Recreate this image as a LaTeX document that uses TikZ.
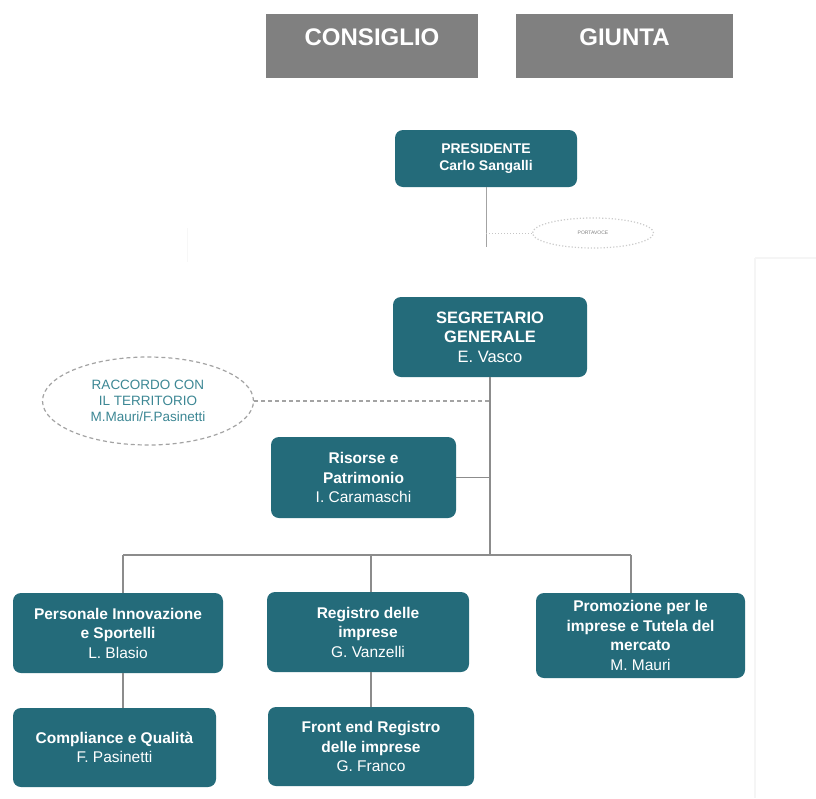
\documentclass[tikz,border=0pt]{standalone}
\usepackage{fontspec}
\setmainfont{Liberation Sans}
\usetikzlibrary{shapes.geometric}
\definecolor{tealbox}{HTML}{246B7A}
\definecolor{grayhead}{HTML}{808080}
\definecolor{linegray}{HTML}{8C8C8C}
\definecolor{racctext}{HTML}{3C8794}
\tikzset{
  headbox/.style={fill=grayhead, text=white, inner xsep=0pt, inner ysep=0pt,
    minimum width=#1, text height=31.5pt, text depth=32.5pt, anchor=north,
    font=\fontsize{24}{28}\selectfont\bfseries},
  unitbox/.style={fill=tealbox, text=white, rounded corners=8pt, align=center,
    inner sep=0pt, font=\fontsize{15.5}{19.5}\selectfont},
  link/.style={draw=linegray, line width=1.2pt},
  dashlink/.style={draw=linegray!80, line width=1.2pt, dash pattern=on 4pt off 3pt},
  dotlink/.style={draw=linegray!50, line width=1pt, dotted},
}
\begin{document}
\begin{tikzpicture}[x=1pt,y=-1pt]
\useasboundingbox (0,0) rectangle (816,798);
\fill[white] (0,0) rectangle (816,798);
% faint scan edges
\draw[black!4, line width=1.5pt] (755,258) -- (816,258) (755,258) -- (755,798);
\draw[black!3, line width=1pt] (187,228) -- (187,262);

% heads
\node[headbox=212pt] (cons) at (372,14) {CONSIGLIO};
\node[headbox=217pt] (giun) at (624.5,14) {GIUNTA};

% presidente
\node[unitbox, minimum width=182pt, minimum height=57pt,
      font=\fontsize{14}{16.5}\selectfont\bfseries] (pres) at (486,158.5)
      {PRESIDENTE\\Carlo Sangalli};
\coordinate (pend) at (486,247);
\coordinate (pj) at (486,233);
\node[ellipse, draw=linegray!45, dotted, line width=1.2pt, minimum width=121pt,
      minimum height=30pt, inner sep=0pt, text=gray,
      font=\fontsize{5}{6}\selectfont] (port) at (593,233) {PORTAVOCE};
\draw[link, line width=1pt, draw=linegray!80] (pres.south) -- (pend);
\draw[dotlink] (pj) -- (port.west);

% segretario
\node[unitbox, minimum width=194pt, minimum height=80pt,
      font=\fontsize{16.5}{19.5}\selectfont] (seg) at (490,337)
      {\textbf{SEGRETARIO}\\\textbf{GENERALE}\\E. Vasco};
\node[ellipse, draw=linegray!80, dash pattern=on 4pt off 3pt, line width=1.2pt,
      minimum width=211pt, minimum height=88pt, inner sep=0pt, text=racctext,
      align=center, font=\fontsize{13.5}{16}\selectfont] (racc) at (148,401)
      {RACCORDO CON\\IL TERRITORIO\\M.Mauri/F.Pasinetti};
\node[unitbox, minimum width=185pt, minimum height=81pt] (ris) at (363.5,477.5)
      {\textbf{Risorse e}\\\textbf{Patrimonio}\\I. Caramaschi};

\coordinate (bus) at (490,555);
\coordinate (d1) at (123,555);
\coordinate (d2) at (371,555);
\coordinate (d3) at (631,555);

\draw[link] (seg.south) -- (bus);
\draw[dashlink] (racc.east) -- (racc.east -| seg.south);
\draw[link] (ris.east) -- (ris.east -| seg.south);
\draw[link] (d1) -- (d3);

% third level
\node[unitbox, minimum width=210pt, minimum height=80pt] (pers) at (118,633)
      {\textbf{Personale Innovazione}\\\textbf{e Sportelli}\\L. Blasio};
\node[unitbox, minimum width=202pt, minimum height=80pt] (reg) at (368,632)
      {\textbf{Registro delle}\\\textbf{imprese}\\G. Vanzelli};
\node[unitbox, minimum width=209pt, minimum height=85pt] (prom) at (640.5,635.5)
      {\textbf{Promozione per le}\\\textbf{imprese e Tutela del}\\\textbf{mercato}\\M. Mauri};
\node[unitbox, minimum width=203pt, minimum height=79pt] (comp) at (114.5,747.5)
      {\textbf{Compliance e Qualità}\\F. Pasinetti};
\node[unitbox, minimum width=206pt, minimum height=79pt] (front) at (371,746.5)
      {\textbf{Front end Registro}\\\textbf{delle imprese}\\G. Franco};

\draw[link] (d1) -- (d1 |- pers.north);
\draw[link] (d2) -- (d2 |- reg.north);
\draw[link] (d3) -- (d3 |- prom.north);
\draw[link] (d1 |- pers.south) -- (d1 |- comp.north);
\draw[link] (d2 |- reg.south) -- (d2 |- front.north);
\end{tikzpicture}
\end{document}
